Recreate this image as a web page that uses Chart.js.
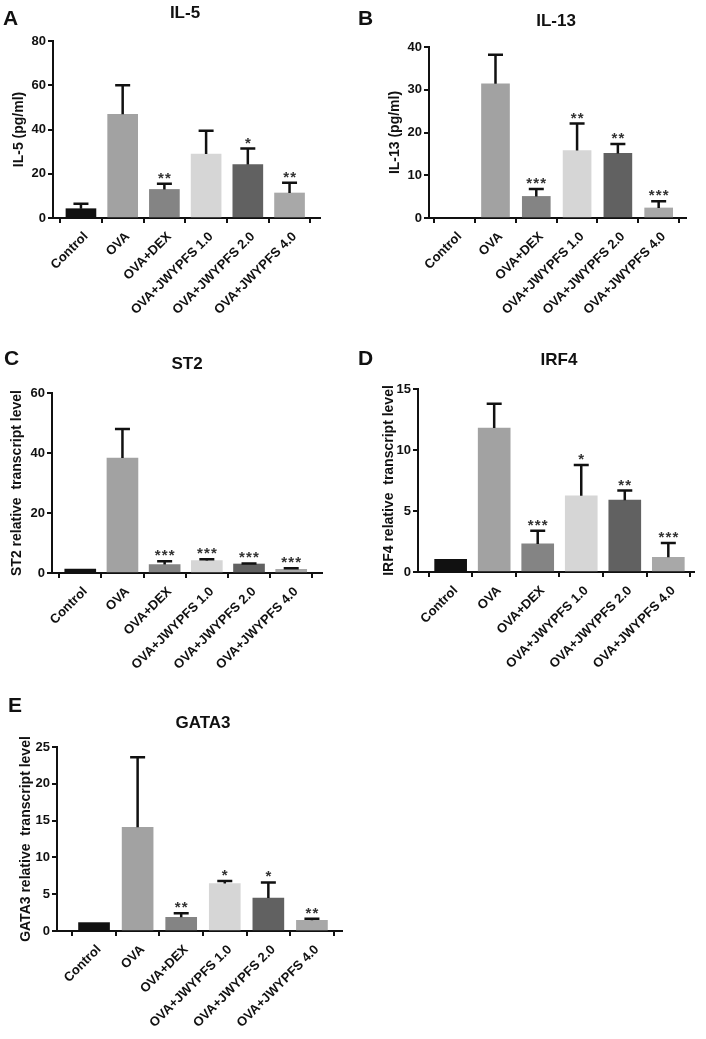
<!DOCTYPE html>
<html>
<head>
<meta charset="utf-8">
<script src="https://cdn.jsdelivr.net/npm/chart.js@4.4.1/dist/chart.umd.min.js"></script>
<style>
  body { margin: 0; background: #fff; width: 706px; height: 1039px; position: relative; overflow: hidden;
         font-family: "Liberation Sans", Arial, sans-serif; }
  canvas { position: absolute; }
  .lbl { position: absolute; font-weight: bold; color: #111; white-space: nowrap; }
  .letter { font-size: 21px; line-height: 24px; }
  .ttl { font-size: 17px; line-height: 20px; width: 140px; text-align: center; }
</style>
</head>
<body>
<script>
const GROUPS = ['Control', 'OVA', 'OVA+DEX', 'OVA+JWYPFS 1.0', 'OVA+JWYPFS 2.0', 'OVA+JWYPFS 4.0'];
const BAR_COLORS = ['#111111', '#a2a2a2', '#848484', '#d6d6d6', '#616161', '#a8a8a8'];

// mean values and upper SD
const il5Mean = [4.2, 46.9, 12.9, 28.9, 24.2, 11.3];
const il5Sd = [2.2, 13.1, 2.6, 10.5, 7.2, 4.6];
const il5Stars = ['', '', '**', '', '*', '**'];

const il13Mean = [0, 31.4, 5.05, 15.8, 15.1, 2.35];
const il13Sd = [0, 6.8, 1.75, 6.3, 2.2, 1.55];
const il13Stars = ['', '', '***', '**', '**', '***'];

const st2Mean = [1.3, 38.3, 2.8, 4.1, 3.0, 1.2];
const st2Sd = [0, 9.7, 1.1, 0.5, 0.2, 0.4];
const st2Stars = ['', '', '***', '***', '***', '***'];

const irf4Mean = [1.03, 11.8, 2.3, 6.24, 5.89, 1.2];
const irf4Sd = [0, 2.0, 1.08, 2.54, 0.79, 1.17];
const irf4Stars = ['', '', '***', '*', '**', '***'];

const gata3Mean = [1.14, 14.1, 1.86, 6.44, 4.48, 1.45];
const gata3Sd = [0, 9.5, 0.54, 0.36, 2.12, 0.23];
const gata3Stars = ['', '', '**', '*', '*', '**'];

// layout: box = canvas [left, top, w, h], area = plot [left, top, right, bottom]
const PANELS = [
    { letter: 'A', title: 'IL-5', yTitle: 'IL-5 (pg/ml)', mean: il5Mean, sd: il5Sd, stars: il5Stars,
      yMax: 80, yStep: 20, box: [0, 0, 345, 335], area: [53, 41, 320, 218], xRange: [-0.67, 5.73], bar: 30,
      yTitleX: 19, titlePos: [185, 13], letterPos: [3, 17.5] },
    { letter: 'B', title: 'IL-13', yTitle: 'IL-13 (pg/ml)', mean: il13Mean, sd: il13Sd, stars: il13Stars,
      yMax: 40, yStep: 10, box: [353, 0, 353, 335], area: [429, 47, 686, 218], xRange: [-0.63, 5.67], bar: 28,
      yTitleX: 395, titlePos: [556, 20.5], letterPos: [358, 17.5] },
    { letter: 'C', title: 'ST2', yTitle: 'ST2 relative  transcript level', mean: st2Mean, sd: st2Sd, stars: st2Stars,
      yMax: 60, yStep: 20, box: [0, 335, 345, 345], area: [52, 393, 322, 573], xRange: [-0.67, 5.73], bar: 31,
      yTitleX: 17, titlePos: [187, 364], letterPos: [4, 357.5] },
    { letter: 'D', title: 'IRF4', yTitle: 'IRF4 relative  transcript level', mean: irf4Mean, sd: irf4Sd, stars: irf4Stars,
      yMax: 15, yStep: 5, box: [353, 335, 353, 345], area: [418, 389, 694, 572], xRange: [-0.75, 5.59], bar: 32,
      yTitleX: 389, titlePos: [559, 360], letterPos: [358, 357.5] },
    { letter: 'E', title: 'GATA3', yTitle: 'GATA3 relative  transcript level', mean: gata3Mean, sd: gata3Sd, stars: gata3Stars,
      yMax: 25, yStep: 5, box: [0, 680, 360, 359], area: [57, 747, 342, 931], xRange: [-0.85, 5.69], bar: 31,
      yTitleX: 26, titlePos: [203, 722.5], letterPos: [8, 704.5] }
];

Chart.defaults.font.family = '"Liberation Sans", Arial, sans-serif';
Chart.defaults.color = '#111';

const errorBarPlugin = {
    id: 'errorBars',
    afterDatasetsDraw(chart) {
        const { ctx } = chart;
        const yScale = chart.scales.y;
        const ds = chart.data.datasets[0];
        const bars = chart.getDatasetMeta(0).data;
        ctx.save();
        ctx.strokeStyle = '#111';
        ctx.fillStyle = '#333';
        ctx.lineWidth = 2.5;
        ctx.font = 'bold 15px "Liberation Sans", Arial, sans-serif';
        ctx.textAlign = 'center';
        ctx.textBaseline = 'alphabetic';
        bars.forEach((bar, i) => {
            const mean = ds.data[i].y;
            const sd = ds.sd[i];
            const yMean = yScale.getPixelForValue(mean);
            const yTop = yScale.getPixelForValue(mean + sd);
            if (sd > 0) {
                ctx.beginPath();
                ctx.moveTo(bar.x, yMean);
                ctx.lineTo(bar.x, yTop);
                ctx.moveTo(bar.x - 7.5, yTop);
                ctx.lineTo(bar.x + 7.5, yTop);
                ctx.stroke();
            }
            const s = ds.stars[i];
            for (let k = 0; k < s.length; k++) {
                const sx = bar.x + (k - (s.length - 1) / 2) * 7;
                ctx.fillText('*', sx, yTop - 1);
            }
        });
        ctx.restore();
    }
};

function addLabel(cls, text, left, top) {
    const d = document.createElement('div');
    d.className = 'lbl ' + cls;
    d.textContent = text;
    d.style.left = left + 'px';
    d.style.top = top + 'px';
    document.body.appendChild(d);
}

function makePanel(p) {
    const [bl, bt, bw, bh] = p.box;
    const [al, at, ar, ab] = p.area;
    const cv = document.createElement('canvas');
    cv.width = bw;
    cv.height = bh;
    cv.style.left = bl + 'px';
    cv.style.top = bt + 'px';
    document.body.appendChild(cv);

    const axisGrid = { display: true, drawOnChartArea: false, drawTicks: true, tickLength: 5,
                       lineWidth: 2, tickWidth: 2, color: '#111', tickColor: '#111' };

    new Chart(cv, {
        type: 'bar',
        data: {
            datasets: [{
                data: p.mean.map((v, i) => ({ x: i, y: v })),
                sd: p.sd,
                stars: p.stars,
                backgroundColor: BAR_COLORS,
                borderWidth: 0,
                barThickness: p.bar
            }]
        },
        options: {
            responsive: false,
            animation: false,
            devicePixelRatio: 1,
            layout: { padding: { top: at - bt, right: bl + bw - ar, bottom: 0, left: 0 } },
            plugins: { legend: { display: false }, tooltip: { enabled: false } },
            scales: {
                x: {
                    type: 'linear',
                    min: p.xRange[0],
                    max: p.xRange[1],
                    offset: false,
                    afterBuildTicks: s => { s.ticks = s.ticks.filter(t => Number.isInteger(t.value) && t.value >= 0 && t.value < GROUPS.length); },
                    afterFit: s => { s.height = bt + bh - ab; },
                    border: { display: true, color: '#111', width: 2 },
                    grid: axisGrid,
                    ticks: {
                        stepSize: 1, includeBounds: false, autoSkip: false,
                        minRotation: 45, maxRotation: 45, padding: 6, labelOffset: 5,
                        color: '#111', font: { size: 13, weight: 'bold' },
                        callback: v => GROUPS[v] ?? ''
                    }
                },
                y: {
                    min: 0,
                    max: p.yMax,
                    afterFit: s => { s.width = al - bl; },
                    border: { display: true, color: '#111', width: 2 },
                    grid: axisGrid,
                    ticks: { stepSize: p.yStep, padding: 2, color: '#111', font: { size: 13, weight: 'bold' } },
                    title: {
                        display: true, text: p.yTitle, color: '#111',
                        font: { size: 14, weight: 'bold' },
                        padding: { top: p.yTitleX - bl - 8.4, bottom: 0 }
                    }
                }
            }
        },
        plugins: [errorBarPlugin]
    });

    addLabel('letter', p.letter, p.letterPos[0], p.letterPos[1] - 11.8);
    addLabel('ttl', p.title, p.titlePos[0] - 70, p.titlePos[1] - 9.8);
}

PANELS.forEach(makePanel);
</script>
</body>
</html>
